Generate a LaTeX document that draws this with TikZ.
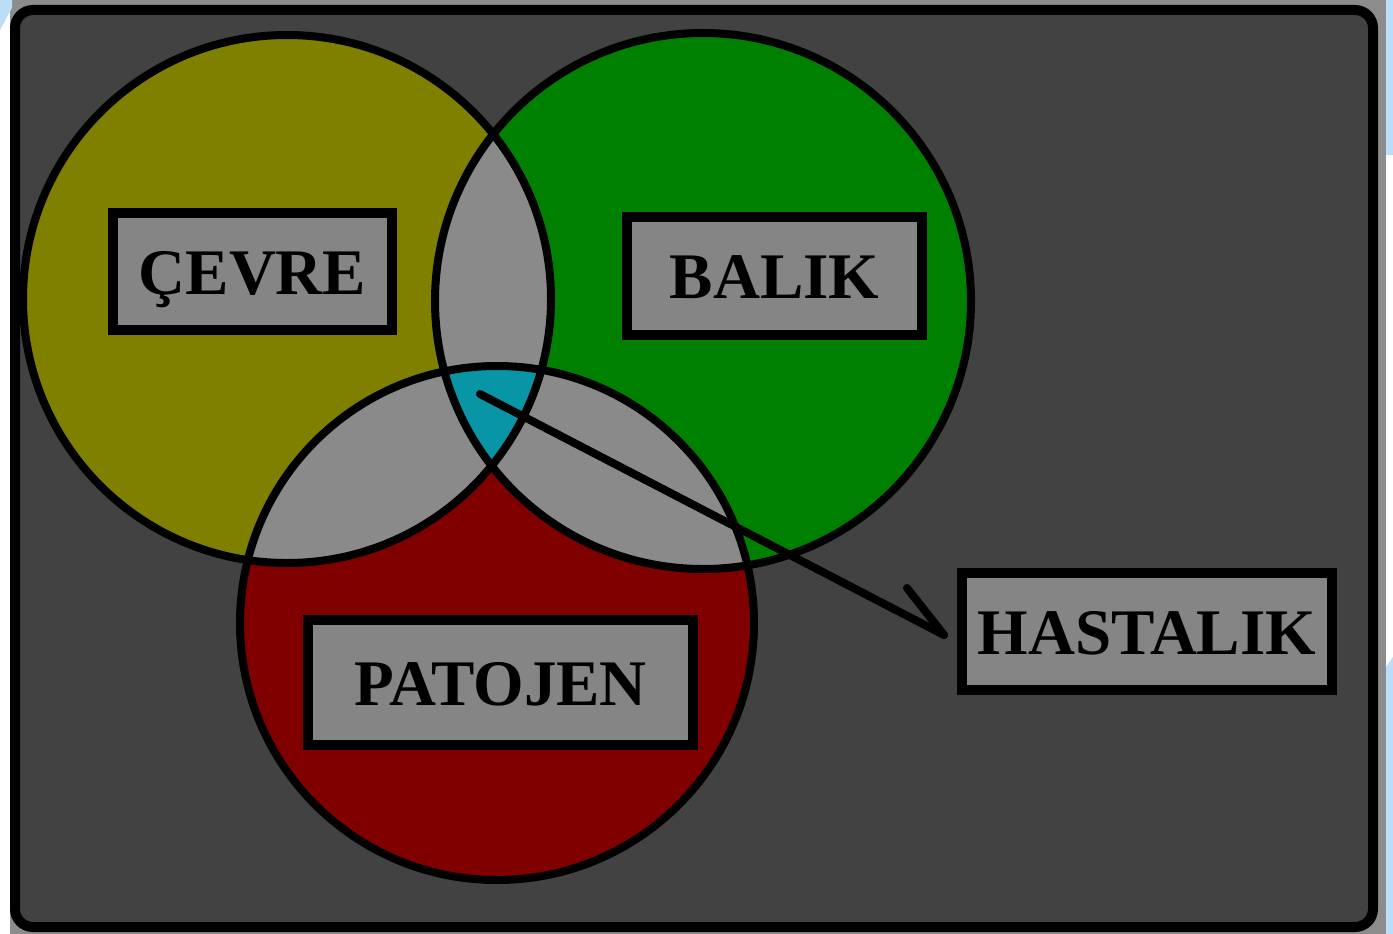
\documentclass[tikz,border=0pt]{standalone}
\usepackage{fontspec}
\setmainfont{Liberation Serif}
\definecolor{panel}{HTML}{424242}
\definecolor{olivec}{HTML}{808000}
\definecolor{greenc}{HTML}{008000}
\definecolor{redc}{HTML}{800000}
\definecolor{isect}{HTML}{8A8A8A}
\definecolor{tealc}{HTML}{0896A6}
\definecolor{boxgray}{HTML}{858585}
\definecolor{edgegray}{HTML}{8C8C8C}
\definecolor{skyc}{HTML}{BBDDF8}
\tikzset{
  ring/.style={draw=black, line width=8pt},
  lbl/.style={draw=black, line width=10pt, fill=boxgray, inner sep=0pt,
    font=\fontsize{65}{70}\selectfont\bfseries, text height=45pt, text depth=0pt},
  arrowline/.style={draw=black, line width=8pt, line cap=round},
}
\begin{document}
\begin{tikzpicture}[x=1pt,y=-1pt]
\useasboundingbox (0,0) rectangle (1393,934);
% outside
\fill[white] (0,0) rectangle (1393,934);
\fill[edgegray] (10,0) rectangle (1386,934);
\fill[skyc] (1386,0) rectangle (1393,155);
\fill[skyc] (1386,667) -- (1393,657) -- (1393,934) -- (1386,934) -- cycle;
\fill[skyc] (0,0) -- (12,0) -- (12,8) -- (0,30) -- cycle;
% panel
\draw[line width=10pt, rounded corners=18pt, fill=panel] (15,10) rectangle (1373,927);
% circle centres
\coordinate (cc) at (287,299);
\coordinate (bc) at (703,301);
\coordinate (pc) at (497,623);
% fills
\fill[olivec] (cc) circle[radius=264pt];
\fill[greenc] (bc) circle[radius=268pt];
\fill[redc] (pc) circle[radius=257pt];
\begin{scope}
  \clip (cc) circle[radius=264pt];
  \fill[isect] (bc) circle[radius=268pt];
  \fill[isect] (pc) circle[radius=257pt];
\end{scope}
\begin{scope}
  \clip (bc) circle[radius=268pt];
  \fill[isect] (pc) circle[radius=257pt];
\end{scope}
\begin{scope}
  \clip (cc) circle[radius=264pt];
  \clip (bc) circle[radius=268pt];
  \fill[tealc] (pc) circle[radius=257pt];
\end{scope}
% outlines
\draw[ring] (cc) circle[radius=264pt];
\draw[ring] (bc) circle[radius=268pt];
\draw[ring] (pc) circle[radius=257pt];
% labels
\node[lbl, minimum width=279pt, minimum height=117pt] (cevre) at (252.5,271.5) {ÇEVRE};
\node[lbl, minimum width=295pt, minimum height=118pt] (balik) at (774.5,276) {BALIK};
\node[lbl, minimum width=385pt, minimum height=125pt] (patojen) at (500.5,682.5) {PATOJEN};
\node[lbl, minimum width=370pt, minimum height=117pt] (has) at (1147,631.5) {HASTALIK};
% arrow
\coordinate (start) at (480,394);
\coordinate (tip) at ([xshift=-13pt,yshift=-3.5pt]has.west);
\draw[arrowline] (start) -- (tip);
\draw[arrowline] (tip) -- ++(-37,-47);
\end{tikzpicture}
\end{document}
